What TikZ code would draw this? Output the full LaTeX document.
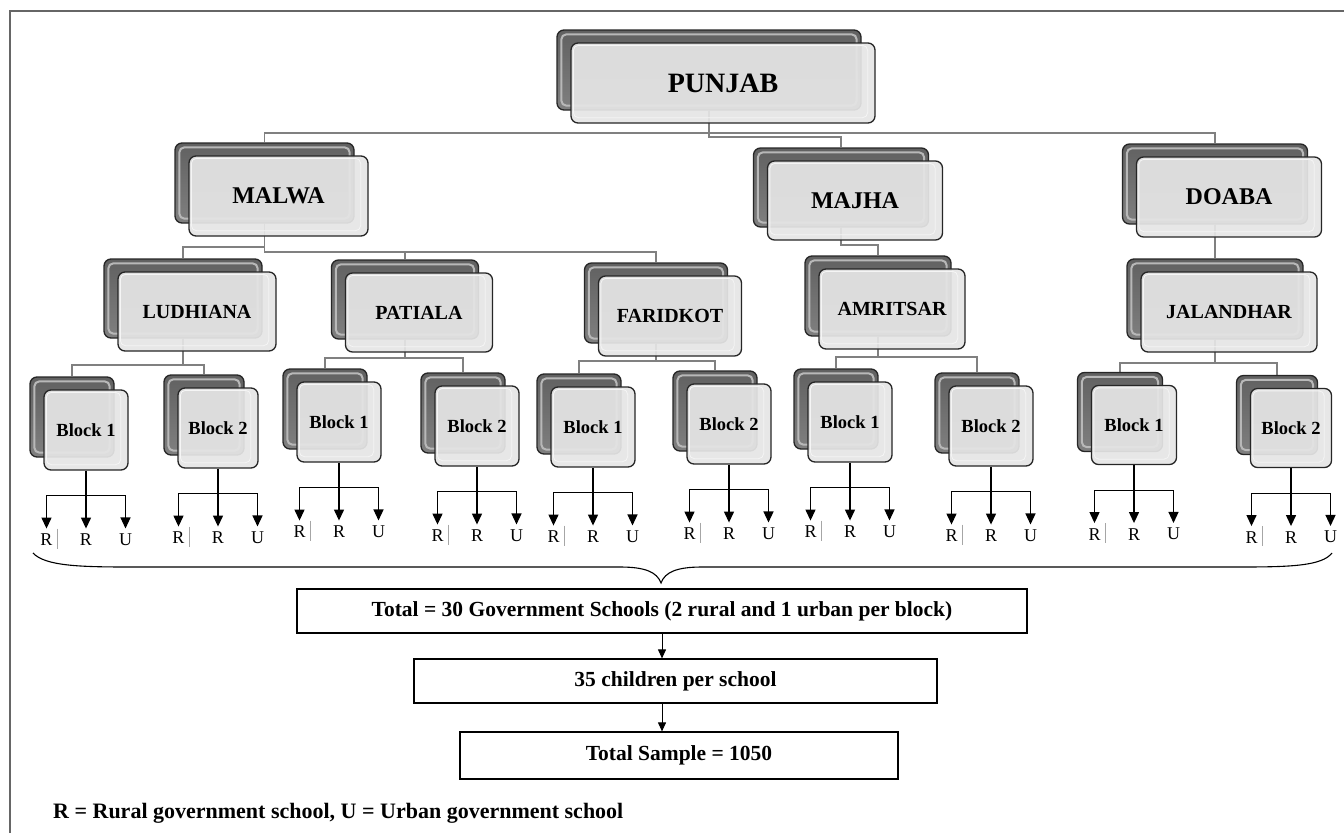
\documentclass[tikz,border=0pt]{standalone}
\usepackage{fontspec}
\setmainfont{Liberation Serif}
\usetikzlibrary{arrows.meta,calc,backgrounds}
\newcommand\pair[7]{%
 \node[backbox,minimum width=#4pt,minimum height=#5pt] (#1b) at (#2-14,#3-13) {};
 \draw[bevel] ($(#1b.south west)+(5,-5)$) rectangle ($(#1b.north east)+(-5,5)$);
 \node[frontbox,minimum width=#4pt,minimum height=#5pt,font=\bfseries\fontsize{#6}{#6}\selectfont] (#1) at (#2,#3) {#7};
 \draw[inner] ($(#1.south west)+(3,-6)$) rectangle ($(#1.north east)+(-8,3)$);}
\newcommand\rtree[1]{%
 \node[lab] (#1r1) at ($(#1.south)+(-39.5,69)$) {R};
 \node[lab] (#1r2) at ($(#1.south)+(0,69)$) {R};
 \node[lab] (#1u) at ($(#1.south)+(39.5,69)$) {U};
 \coordinate (#1bus) at ($(#1.south)+(0,25)$);
 \draw[arr] (#1bus) -| (#1r1.north);
 \draw[arr] (#1bus) -| (#1u.north);
 \draw[arr] (#1.south) -- (#1r2.north);
 \draw[sepline] ($(#1r1.north east)+(5,-5)$) -- ++(0,20);}
\begin{document}
\begin{tikzpicture}[x=1pt,y=-1pt,
 backbox/.style={draw=black!85,line width=1.3pt,rounded corners=7pt,top color=black!62,bottom color=black!50,inner sep=0pt},
 bevel/.style={draw=black!28,line width=2pt,rounded corners=5pt},
 frontbox/.style={draw=black!85,line width=1.3pt,rounded corners=7pt,fill=black!10,fill opacity=0.93,text opacity=1,inner sep=0pt},
 inner/.style={draw=black!4,line width=0.8pt,rounded corners=5pt},
 conn/.style={draw=black!50,line width=1.8pt},
 arr/.style={draw=black,line width=1.3pt,shorten >=5pt,-{Triangle[width=10pt,length=11pt]}},
 lab/.style={inner sep=0pt,font=\fontsize{18}{18}\selectfont},
 sepline/.style={draw=black!35,line width=0.6pt},
 flow/.style={draw=black,line width=1.2pt,inner sep=0pt,font=\bfseries\fontsize{21.5}{21.5}\selectfont},
 farr/.style={draw=black,line width=1pt,-{Triangle[width=8pt,length=9pt]}},
]
\useasboundingbox (0,0) rectangle (1344,833);
% boxes
\pair{punjab}{723}{83}{304}{80}{28}{PUNJAB}
\pair{malwa}{278.5}{196}{179}{80}{24}{MALWA}
\pair{majha}{855}{200.5}{175}{79}{24}{MAJHA}
\pair{doaba}{1229}{197}{185}{80}{24}{DOABA}
\pair{ludhiana}{197}{311.5}{158}{79}{20}{LUDHIANA}
\pair{patiala}{419}{312.5}{147}{79}{20}{PATIALA}
\pair{faridkot}{670}{316}{143}{80}{20}{FARIDKOT}
\pair{amritsar}{892}{309}{146}{80}{20}{AMRITSAR}
\pair{jalandhar}{1229}{312}{176}{80}{20}{JALANDHAR}
\pair{L1}{86}{430}{84}{80}{18.5}{Block 1}
\pair{L2}{218}{428}{80}{80}{18.5}{Block 2}
\pair{P1}{339}{422}{84}{80}{18.5}{Block 1}
\pair{P2}{477}{426}{84}{80}{18.5}{Block 2}
\pair{F1}{593}{427}{84}{80}{18.5}{Block 1}
\pair{F2}{729}{424}{84}{80}{18.5}{Block 2}
\pair{A1}{850}{422}{84}{80}{18.5}{Block 1}
\pair{A2}{991}{426}{84}{80}{18.5}{Block 2}
\pair{J1}{1134}{425}{85}{79}{18.5}{Block 1}
\pair{J2}{1291}{428}{81}{79}{18.5}{Block 2}
% connectors (behind)
\begin{scope}[on background layer]
\draw[black!60,line width=2pt] (10,833) -- (10,11) -- (1344,11);
\draw[conn] (punjabb.south) -- (punjabb.south |- 0,133);
\draw[conn] (malwab.north) |- (doabab.north |- 0,133) -- (doabab.north);
\draw[conn] (punjabb.south |- 0,133) -- ++(0,4) -| (majhab.north);
\draw[conn] (malwab.south) -- (malwab.south |- 0,247) -| (ludhianab.north);
\draw[conn] (malwab.south |- 0,247) -- ++(0,5) -| (faridkotb.north);
\draw[conn] (patialab.north) -- (patialab.north |- 0,252);
\draw[conn] (majhab.south) |- (amritsarb.north |- 0,245) -- (amritsarb.north);
\draw[conn] (doabab.south) -- (jalandharb.north);
\foreach \d/\a/\b/\y in {ludhiana/L1/L2/365, patiala/P1/P2/358, faridkot/F1/F2/361, amritsar/A1/A2/357, jalandhar/J1/J2/363}{
 \draw[conn] (\d b.south) -- (\d b.south |- 0,\y);
 \draw[conn] (\a b.north) |- (\b b.north |- 0,\y) -- (\b b.north);}
\end{scope}
% R R U trees
\foreach \n in {L1,L2,P1,P2,F1,F2,A1,A2,J1,J2}{\rtree{\n}}
% brace
\draw[black,line width=1.1pt] (33,553) .. controls (45,566) and (80,567) .. (130,567) -- (620,567) .. controls (645,567) and (657,572) .. (661,583) coordinate (bracetip) .. controls (665,572) and (677,567) .. (702,567) -- (1240,567) .. controls (1290,567) and (1322,566) .. (1332,553);
% flow boxes
\node[flow,minimum width=730pt,minimum height=44pt] (total) at (662,611) {Total = 30 Government Schools (2 rural and 1 urban per block)};
\node[flow,minimum width=523pt,minimum height=44pt] (child) at (675.5,681) {35 children per school};
\node[flow,minimum width=438pt,minimum height=47pt] (sample) at (679,755.5) {Total Sample = 1050};
\draw[farr] (total.south) -- (total.south |- child.north);
\draw[farr] (total.south |- child.south) -- (total.south |- sample.north);
\node[anchor=west,inner sep=0pt,font=\bfseries\fontsize{22}{22}\selectfont] (legend) at (53,813) {R = Rural government school, U = Urban government school};
\end{tikzpicture}
\end{document}
